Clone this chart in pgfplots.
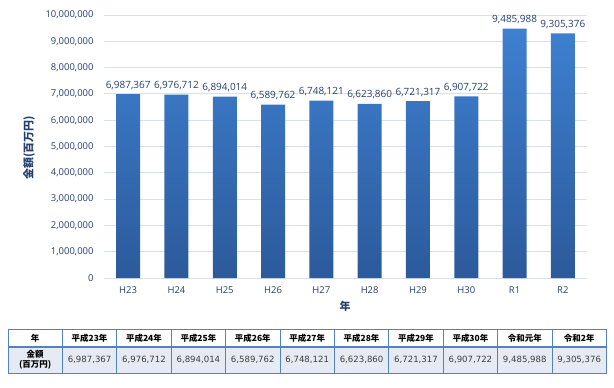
\documentclass[border=0pt]{standalone}
\usepackage{pgfplots}
\pgfplotsset{compat=1.18}
\usepackage{fontspec}
\setmainfont{Open Sans}
\newfontfamily\cjk{Noto Sans CJK JP}
\newfontfamily\tabfont{DejaVu Sans}
\definecolor{txt}{RGB}{38,64,110}
\definecolor{gridc}{RGB}{214,224,238}
\definecolor{bartop}{RGB}{62,128,208}
\definecolor{barbot}{RGB}{44,90,155}
\definecolor{tborder}{RGB}{84,130,190}
\definecolor{tfill}{RGB}{230,235,243}
\definecolor{ttxt}{RGB}{60,60,60}
\begin{document}
\begin{tikzpicture}
\path[use as bounding box] (0,0) rectangle (614bp,-388bp);
\begin{axis}[
  at={(104bp,-278bp)}, anchor=south west, scale only axis,
  width=483bp, height=263bp,
  xmin=-0.5, xmax=9.5, ymin=0, ymax=10000000,
  ytick={0,1000000,2000000,3000000,4000000,5000000,6000000,7000000,8000000,9000000,10000000},
  xtick={0,1,2,3,4,5,6,7,8,9},
  xticklabels={H23,H24,H25,H26,H27,H28,H29,H30,R1,R2},
  axis line style={draw=none}, major tick length=0pt,
  ymajorgrids, grid style={gridc, line width=0.9pt},
  scaled y ticks=false,
  /pgf/number format/assume math mode=true,
  /pgf/number format/fixed,
  /pgf/number format/1000 sep={,},
  tick label style={font=\fontsize{9.5}{11}\selectfont, text=txt},
  yticklabel style={xshift=-7bp},
  xticklabel style={yshift=-5bp},
]
\addplot[ybar, bar width=24bp, draw=none, top color=bartop, bottom color=barbot,
  nodes near coords,
  nodes near coords style={font=\fontsize{10}{12}\selectfont, text=txt, yshift=1bp}]
  coordinates {(0,6987367) (1,6976712) (2,6894014) (3,6589762) (4,6748121)
               (5,6623860) (6,6721317) (7,6907722) (8,9485988) (9,9305376)};
\end{axis}
\node[rotate=90, font=\cjk\bfseries\fontsize{11}{13}\selectfont, text=txt] at (29bp,-148bp) {金額(百万円)};
\node[font=\cjk\bfseries\fontsize{11}{13}\selectfont, text=txt] at (345bp,-306bp) {年};
\begin{scope}[x=1bp,y=1bp]
  \fill[white] (8,-329) rectangle (606.4,-347);
  \fill[tfill] (8,-347) rectangle (606.4,-373);
  \foreach \i in {1,...,10} {
    \draw[tborder, line width=0.8bp] ({8+54.4*\i},-329) -- ({8+54.4*\i},-373);
  }
  \draw[tborder, line width=0.8bp] (8,-329) rectangle (606.4,-373);
  \draw[tborder, line width=1.8bp] (8,-347) -- (606.4,-347);
  \foreach \lab [count=\i from 0] in {年,平成23年,平成24年,平成25年,平成26年,平成27年,平成28年,平成29年,平成30年,令和元年,令和2年} {
    \node[font=\cjk\bfseries\fontsize{8.5}{10}\selectfont, text=black] at ({8+54.4*(\i+0.5)},-338) {\lab};
  }
  \node[font=\cjk\bfseries\fontsize{8.5}{10}\selectfont, text=black, align=center] at ({8+54.4*0.5},-360) {金額\\(百万円)};
  \foreach \v [count=\i from 1] in {6{,}987{,}367,6{,}976{,}712,6{,}894{,}014,6{,}589{,}762,6{,}748{,}121,6{,}623{,}860,6{,}721{,}317,6{,}907{,}722,9{,}485{,}988,9{,}305{,}376} {
    \node[font=\tabfont\fontsize{8.6}{10}\selectfont, text=ttxt] at ({8+54.4*(\i+0.5)},-360) {\v};
  }
\end{scope}
\end{tikzpicture}
\end{document}
